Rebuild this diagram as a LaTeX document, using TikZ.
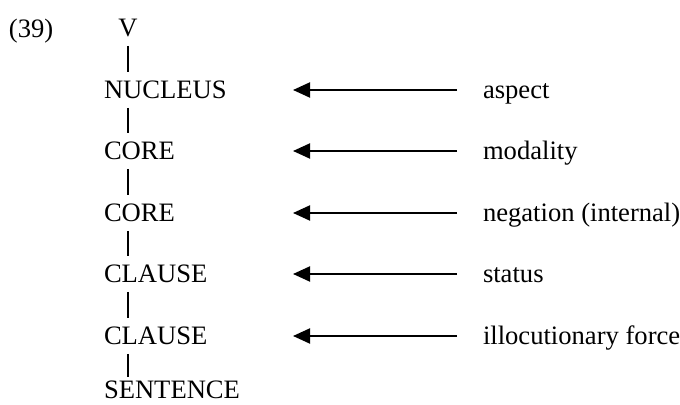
\documentclass[tikz,border=0pt]{standalone}
\usepackage{fontspec}
\setmainfont{Liberation Serif}
\usetikzlibrary{arrows.meta}
\begin{document}
\begin{tikzpicture}[x=.5pt,y=-.5pt,font=\fontsize{13.3}{16}\selectfont,line width=1pt,
  every node/.style={inner sep=0,text height=9pt,text depth=0pt},
  lev/.style={anchor=base west},
  lnk/.style={shorten >=4pt,shorten <=4pt},
  opr/.style={-{Triangle[length=8.5pt,width=7.5pt]},shorten <=12.5pt}]
\useasboundingbox (0,0) rectangle (680,405);
\node[lev] (ex) at (8,38) {(39)};
\node[anchor=base] (v) at (128,37) {V};
\coordinate (tip) at (293,0);
\foreach \i/\cat/\op/\y in {1/NUCLEUS/aspect/99,2/CORE/modality/160,3/CORE/negation (internal)/222,4/CLAUSE/status/283,5/CLAUSE/illocutionary force/345}{\node[lev] (n\i) at (103,\y) {\cat};\node[lev] (o\i) at (482,\y) {\op};\draw[opr] (o\i.west) -- (o\i.west -| tip);}
\node[lev] (s) at (103,399) {SENTENCE};
\foreach \a/\b in {v/n1,n1/n2,n2/n3,n3/n4,n4/n5}{\draw[lnk] (\a.south -| v) -- (\b.north -| v);}
\draw[lnk,shorten >=1.5pt] (n5.south -| v) -- (s.north -| v);
\end{tikzpicture}
\end{document}
